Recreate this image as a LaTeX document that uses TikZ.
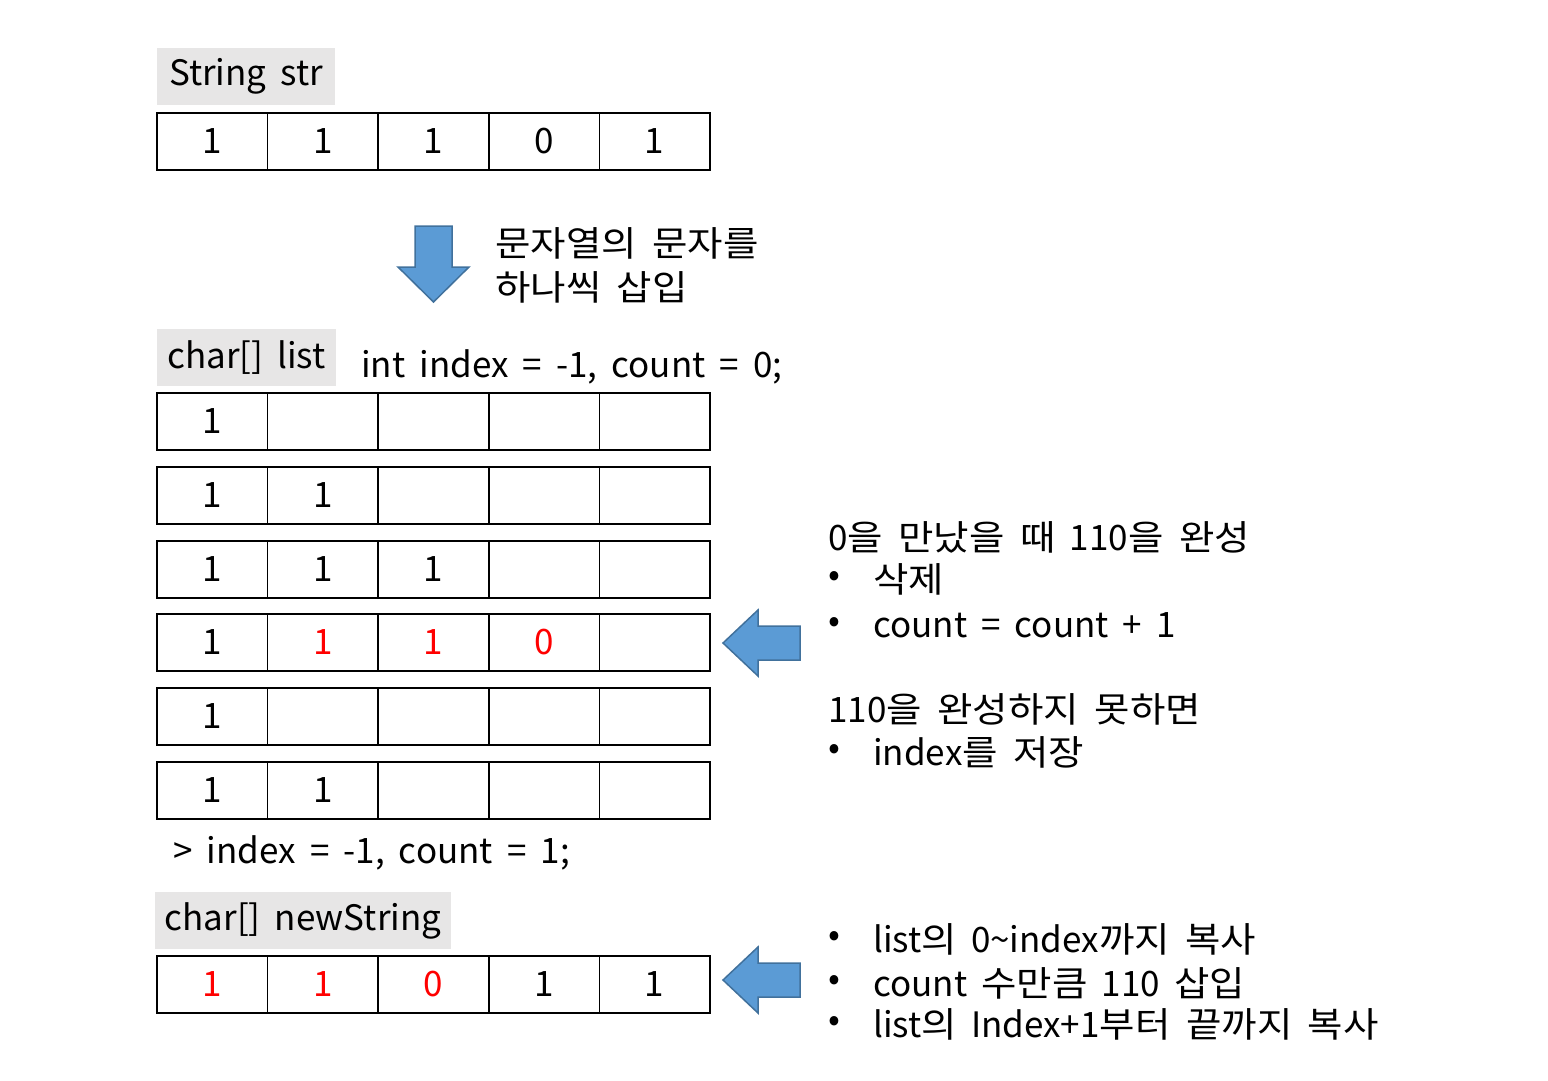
\documentclass[tikz,border=0pt]{standalone}
\usepackage{fontspec}
\setmainfont{Noto Sans CJK KR}[WordSpace=1.8]
\newfontfamily\kofont{Noto Sans CJK KR}[FakeStretch=1.1,WordSpace=1.8]
\newcommand\ko[1]{{\kofont #1}}
\newcommand\lw[1]{\raisebox{-2.5pt}{#1}}
\definecolor{lbl}{RGB}{231,230,230}
\definecolor{arrfill}{RGB}{91,155,213}
\definecolor{arrline}{RGB}{65,113,156}
\begin{document}
\begin{tikzpicture}[x=1pt,y=-1pt,
  every node/.style={font=\fontsize{35}{44}\selectfont},
  cell/.style={draw, line width=1.6pt, minimum width=110.6pt, minimum height=57pt, inner sep=0pt, outer sep=0pt},
  lblbox/.style={fill=lbl, minimum height=57pt, inner sep=0pt, outer sep=0pt},
  txt/.style={anchor=west, inner sep=0pt},
  bigarrow/.style={fill=arrfill, draw=arrline, line width=1.5pt, line join=miter}]
\useasboundingbox (0,0) rectangle (1548,1080);
% String str
\node[lblbox, minimum width=178pt] (lstr) at (246,76.5) {\lw{String str}};
\foreach \i/\v/\c in {1/1/black,2/1/black,3/1/black,4/0/black,5/1/black}
  \node[cell,text=\c] (s\i) at ({157+110.6*(\i-0.5)},141.5) {\lw{\v}};
% down arrow
\draw[bigarrow] (415,226) -- (452,226) -- (452,267) -- (469,267) -- (433.5,302) -- (398,267) -- (415,267) -- cycle;
\node[txt] (t1) at (495,243) {\ko{문자열의 문자를}};
\node[txt] (t2) at (495,287) {\ko{하나씩 삽입}};
% char[] list
\node[lblbox, minimum width=179pt] (llist) at (246.5,357.5) {\lw{char[] list}};
\node[txt] (init) at (361,367) {int index = -1, count = 0;};
% rows
\foreach \i/\v/\c in {1/1/black,2//black,3//black,4//black,5//black}
  \node[cell,text=\c] (a\i) at ({157+110.6*(\i-0.5)},421.5) {\lw{\v}};
\foreach \i/\v/\c in {1/1/black,2/1/black,3//black,4//black,5//black}
  \node[cell,text=\c] (b\i) at ({157+110.6*(\i-0.5)},495.5) {\lw{\v}};
\foreach \i/\v/\c in {1/1/black,2/1/black,3/1/black,4//black,5//black}
  \node[cell,text=\c] (c\i) at ({157+110.6*(\i-0.5)},569.5) {\lw{\v}};
\foreach \i/\v/\c in {1/1/black,2/1/red,3/1/red,4/0/red,5//black}
  \node[cell,text=\c] (d\i) at ({157+110.6*(\i-0.5)},642.5) {\lw{\v}};
\foreach \i/\v/\c in {1/1/black,2//black,3//black,4//black,5//black}
  \node[cell,text=\c] (e\i) at ({157+110.6*(\i-0.5)},716.5) {\lw{\v}};
\foreach \i/\v/\c in {1/1/black,2/1/black,3//black,4//black,5//black}
  \node[cell,text=\c] (f\i) at ({157+110.6*(\i-0.5)},790.5) {\lw{\v}};
\node[txt] (res) at (173,853) {> index = -1, count = 1;};
% newString
\node[lblbox, minimum width=296pt] (lnew) at (303,920.5) {\lw{char[] newString}};
\foreach \i/\v/\c in {1/1/red,2/1/red,3/0/red,4/1/black,5/1/black}
  \node[cell,text=\c] (g\i) at ({157+110.6*(\i-0.5)},984.5) {\lw{\v}};
% left arrows
\draw[bigarrow] (723,643) -- (758,610) -- (758,626) -- (800,626) -- (800,660) -- (758,660) -- (758,676) -- cycle;
\draw[bigarrow] (723,980) -- (758,947) -- (758,963) -- (800,963) -- (800,997) -- (758,997) -- (758,1013) -- cycle;
% right texts
\node[txt] (r1) at (828,537) {0\ko{을 만났을 때} 110\ko{을 완성}};
\node[txt] (b1) at (828,579) {•};
\node[txt] (r2) at (873,579) {\ko{삭제}};
\node[txt] (b2) at (828,625) {•};
\node[txt] (r3) at (873,625) {count = count + 1};
\node[txt] (r4) at (828,709) {110\ko{을 완성하지 못하면}};
\node[txt] (b3) at (828,752) {•};
\node[txt] (r5) at (873,752) {index\ko{를 저장}};
\node[txt] (b4) at (828,939) {•};
\node[txt] (r6) at (873,939) {list\ko{의} 0\textasciitilde index\ko{까지 복사}};
\node[txt] (b5) at (828,983) {•};
\node[txt] (r7) at (873,983) {count \ko{수만큼} 110 \ko{삽입}};
\node[txt] (b6) at (828,1024) {•};
\node[txt] (r8) at (873,1024) {list\ko{의} Index+1\ko{부터 끝까지 복사}};
\end{tikzpicture}
\end{document}
